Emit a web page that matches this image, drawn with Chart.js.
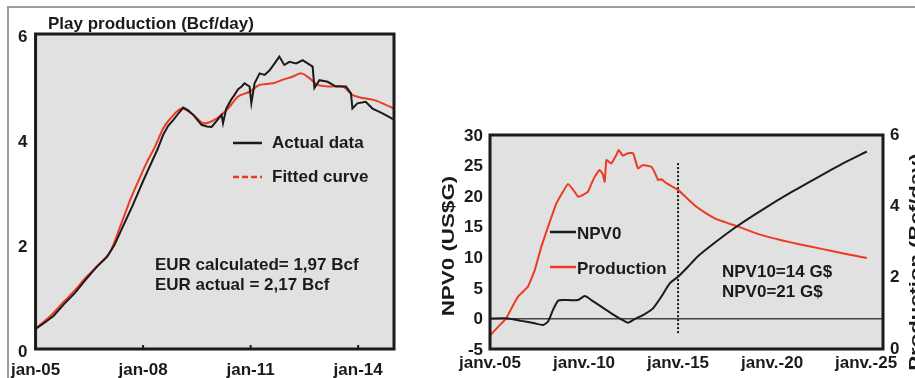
<!DOCTYPE html>
<html>
<head>
<meta charset="utf-8">
<script src="https://cdn.jsdelivr.net/npm/chart.js@4.4.1/dist/chart.umd.min.js"></script>
<style>
  html, body { margin: 0; padding: 0; background: #fff; }
  #wrap { position: relative; width: 915px; height: 378px; overflow: hidden; }
  #frame { position: absolute; left: 7px; top: 6px; width: 920px; height: 380px;
           border-top: 2px solid #9c9c9c; border-left: 2px solid #9c9c9c; }
  #left { position: absolute; left: 0; top: 0; }
  #right { position: absolute; left: 435px; top: 0; }
</style>
</head>
<body>
<div id="wrap">
  <div id="frame"></div>
  <canvas id="left" width="420" height="378"></canvas>
  <canvas id="right" width="480" height="378"></canvas>
</div>
<script>
const FONT = '"Liberation Sans", Arial, Helvetica, sans-serif';
const INK = '#1b1b1b';
const RED = '#ee3a22';
const PLOT_BG = '#e1e1e1';

// --- left chart: play production (Bcf/day) ---
const fitYears = [2005.0, 2005.4, 2005.79, 2006.1, 2006.43, 2006.75, 2007.08, 2007.36, 2007.64, 2007.92,
  2008.1, 2008.33, 2008.56, 2008.75, 2009.07, 2009.4, 2009.68, 2010.05, 2010.37, 2010.65,
  2010.97, 2011.25, 2011.62, 2011.9, 2012.18, 2012.41, 2012.64, 2012.87, 2013.2, 2013.57,
  2013.84, 2014.12, 2014.4, 2014.68, 2015.0];
const fittedCurve = [0.39, 0.62, 0.9, 1.12, 1.38, 1.6, 1.85, 2.33, 2.84, 3.28,
  3.55, 3.85, 4.2, 4.38, 4.58, 4.46, 4.3, 4.39, 4.58, 4.81,
  4.9, 5.03, 5.06, 5.13, 5.19, 5.25, 5.16, 5.03, 5.0, 5.0,
  4.84, 4.78, 4.75, 4.68, 4.58];

const actualYears = [2005.0, 2005.25, 2005.5, 2005.8, 2006.1, 2006.4, 2006.7, 2007.0, 2007.2, 2007.4,
  2007.55, 2007.7, 2007.85, 2008.0, 2008.2, 2008.4, 2008.56, 2008.7, 2008.84, 2009.0,
  2009.12, 2009.25, 2009.4, 2009.52, 2009.63, 2009.78, 2009.91, 2010.07, 2010.19, 2010.23,
  2010.32, 2010.45, 2010.55, 2010.65, 2010.75, 2010.83, 2010.97, 2011.02, 2011.11, 2011.25,
  2011.39, 2011.53, 2011.67, 2011.8, 2011.94, 2012.08, 2012.27, 2012.45, 2012.59, 2012.73,
  2012.78, 2012.92, 2013.15, 2013.38, 2013.66, 2013.8, 2013.84, 2013.98, 2014.21, 2014.4,
  2014.55, 2014.68, 2014.86, 2014.97];
const actualData = [0.38, 0.5, 0.63, 0.86, 1.07, 1.32, 1.56, 1.76, 1.98, 2.28,
  2.5, 2.72, 2.96, 3.2, 3.5, 3.8, 4.08, 4.25, 4.36, 4.5,
  4.6, 4.55, 4.46, 4.36, 4.27, 4.24, 4.23, 4.36, 4.46, 4.3,
  4.58, 4.74, 4.84, 4.95, 5.0, 5.06, 5.0, 4.68, 5.06, 5.25,
  5.22, 5.31, 5.44, 5.57, 5.41, 5.47, 5.44, 5.5, 5.44, 5.38,
  4.97, 5.12, 5.09, 5.0, 5.0, 4.87, 4.58, 4.68, 4.71, 4.58,
  4.53, 4.49, 4.42, 4.38];

const playTickYears = [2005, 2008, 2011, 2014];
const playTickLabels = ['jan-05', 'jan-08', 'jan-11', 'jan-14'];

// --- right chart: NPV0 vs production ---
const npvYears = [2005.0, 2005.96, 2006.67, 2007.38, 2007.82, 2008.09, 2008.35, 2008.62, 2008.88, 2009.15,
  2009.68, 2010.04, 2010.39, 2010.92, 2011.45, 2011.98, 2012.34, 2012.7, 2013.23, 2013.67,
  2014.11, 2014.56, 2015.0, 2015.53, 2016.03, 2017.0, 2018.1, 2019.5, 2021.0, 2022.5,
  2023.8, 2025.04];
const npv0 = [0.0, 0.0, -0.4, -0.8, -1.07, -0.5, 1.4, 2.9, 3.0, 3.0,
  3.0, 3.67, 3.0, 1.92, 0.83, -0.14, -0.7, -0.1, 0.72, 1.65,
  3.55, 5.74, 6.83, 8.46, 10.1, 12.5, 15.0, 17.8, 20.6, 23.2,
  25.4, 27.3];

const prodYears = [2005.0, 2005.43, 2005.85, 2006.2, 2006.49, 2007.02, 2007.38, 2007.73, 2008.09, 2008.53,
  2008.88, 2009.15, 2009.42, 2009.68, 2009.95, 2010.21, 2010.39, 2010.57, 2010.83, 2011.0,
  2011.1, 2011.19, 2011.45, 2011.72, 2011.84, 2012.07, 2012.34, 2012.61, 2012.78, 2012.87,
  2013.14, 2013.58, 2013.76, 2013.94, 2014.11, 2014.38, 2015.0, 2015.53, 2016.0, 2016.5,
  2017.0, 2018.2, 2019.4, 2020.5, 2021.5, 2022.7, 2023.8, 2025.04];
const production = [0.38, 0.62, 0.85, 1.2, 1.47, 1.75, 2.21, 2.87, 3.43, 4.08,
  4.41, 4.63, 4.47, 4.27, 4.32, 4.41, 4.63, 4.83, 5.02, 4.9,
  4.69, 5.3, 5.2, 5.44, 5.58, 5.42, 5.49, 5.49, 5.2, 5.06,
  5.16, 5.11, 4.95, 4.74, 4.76, 4.65, 4.46, 4.2, 3.98, 3.8,
  3.65, 3.43, 3.2, 3.05, 2.93, 2.8, 2.68, 2.55];

const cutoffYears = [2015.0, 2015.0];
const cutoffRange = [-2.4, 25.4];

const npvTickYears = [2005, 2010, 2015, 2020, 2025];
const npvTickLabels = ['janv.-05', 'janv.-10', 'janv.-15', 'janv.-20', 'janv.-25'];

const pts = (xs, ys) => xs.map((x, i) => ({ x: x, y: ys[i] }));

// grey plot background + heavy black box around it
const plotBox = {
  id: 'plotBox',
  beforeDraw(chart) {
    const { ctx, chartArea: a } = chart;
    ctx.save();
    ctx.fillStyle = PLOT_BG;
    ctx.fillRect(a.left, a.top, a.right - a.left, a.bottom - a.top);
    ctx.restore();
  },
  afterDatasetsDraw(chart) {
    const { ctx, chartArea: a } = chart;
    ctx.save();
    ctx.strokeStyle = INK;
    ctx.lineWidth = 3;
    ctx.strokeRect(a.left, a.top, a.right - a.left, a.bottom - a.top);
    ctx.restore();
  }
};

// free text, legend samples and rotated titles, given per chart in options.plugins.notes
const notes = {
  id: 'notes',
  afterDraw(chart, args, opts) {
    const ctx = chart.ctx;
    ctx.save();
    ctx.fillStyle = INK;
    ctx.font = 'bold 17px ' + FONT;
    ctx.textBaseline = 'middle';
    ctx.textAlign = 'left';
    (opts.texts || []).forEach(t => ctx.fillText(t[0], t[1], t[2]));
    (opts.keys || []).forEach(k => {
      ctx.beginPath();
      ctx.strokeStyle = k.color;
      ctx.lineWidth = 2.5;
      ctx.setLineDash(k.dash || []);
      ctx.moveTo(k.x0, k.y);
      ctx.lineTo(k.x1, k.y);
      ctx.stroke();
    });
    ctx.setLineDash([]);
    (opts.rotated || []).forEach(r => {
      ctx.save();
      ctx.translate(r.x, r.y);
      ctx.rotate(-Math.PI / 2);
      ctx.scale(r.stretch || 1, 1);
      ctx.textAlign = 'center';
      ctx.font = 'bold ' + r.size + 'px ' + FONT;
      ctx.fillText(r.text, 0, 0);
      ctx.restore();
    });
    // small inward tick marks on the bottom axis
    if (opts.innerTicks) {
      const xs = chart.scales.x;
      const a = chart.chartArea;
      ctx.strokeStyle = INK;
      ctx.lineWidth = 2;
      xs.ticks.forEach((t, i) => {
        if (i === 0) return;
        const px = xs.getPixelForValue(t.value);
        ctx.beginPath();
        ctx.moveTo(px, a.bottom);
        ctx.lineTo(px, a.bottom - 4);
        ctx.stroke();
      });
    }
    ctx.restore();
  }
};

const tickFont = { family: FONT, size: 17, weight: 'bold' };

new Chart(document.getElementById('left'), {
  type: 'line',
  data: {
    datasets: [
      { label: 'Actual data', data: pts(actualYears, actualData),
        borderColor: INK, borderWidth: 2, pointRadius: 0, tension: 0 },
      { label: 'Fitted curve', data: pts(fitYears, fittedCurve),
        borderColor: RED, borderWidth: 2, pointRadius: 0, tension: 0.3 }
    ]
  },
  options: {
    responsive: false,
    devicePixelRatio: 1,
    animation: false,
    layout: { padding: { top: 34, right: 26, left: 0, bottom: 0 } },
    plugins: {
      legend: { display: false },
      tooltip: { enabled: false },
      notes: {
        innerTicks: true,
        texts: [
          ['Play production (Bcf/day)', 48, 24],
          ['Actual data', 272, 143],
          ['Fitted curve', 272, 177],
          ['EUR calculated= 1,97 Bcf', 155, 265],
          ['EUR actual = 2,17 Bcf', 155, 285]
        ],
        keys: [
          { x0: 233, x1: 262, y: 143, color: INK },
          { x0: 233, x1: 262, y: 177, color: RED, dash: [6, 3] }
        ]
      }
    },
    scales: {
      x: {
        type: 'linear', min: 2005, max: 2015,
        afterBuildTicks: s => { s.ticks = playTickYears.map(v => ({ value: v })); },
        afterFit: s => { s.height = 29; },
        grid: { display: false, drawTicks: false },
        border: { display: false },
        ticks: { autoSkip: false, maxRotation: 0, padding: 11, color: INK, font: tickFont,
                 callback: (v, i) => playTickLabels[i] }
      },
      y: {
        min: 0, max: 6,
        afterFit: s => { s.width = 35; },
        grid: { display: false, drawTicks: false },
        border: { display: false },
        ticks: { stepSize: 2, padding: 8, labelOffset: 3, color: INK, font: tickFont }
      }
    }
  },
  plugins: [plotBox, notes]
});

new Chart(document.getElementById('right'), {
  type: 'line',
  data: {
    datasets: [
      { label: 'NPV0', data: pts(npvYears, npv0), yAxisID: 'y',
        borderColor: INK, borderWidth: 2, pointRadius: 0, tension: 0.2 },
      { label: 'Production', data: pts(prodYears, production), yAxisID: 'y2',
        borderColor: RED, borderWidth: 2, pointRadius: 0, tension: 0.1 },
      { label: 'cutoff', data: pts(cutoffYears, cutoffRange), yAxisID: 'y',
        borderColor: INK, borderWidth: 2, borderDash: [2, 2], pointRadius: 0 }
    ]
  },
  options: {
    responsive: false,
    devicePixelRatio: 1,
    animation: false,
    layout: { padding: { top: 135, right: 0, left: 0, bottom: 0 } },
    plugins: {
      legend: { display: false },
      tooltip: { enabled: false },
      notes: {
        texts: [
          ['NPV0', 142, 234],
          ['Production', 142, 269],
          ['NPV10=14 G$', 287, 272],
          ['NPV0=21 G$', 287, 292]
        ],
        keys: [
          { x0: 115, x1: 141, y: 232, color: INK },
          { x0: 115, x1: 141, y: 267, color: RED }
        ],
        rotated: [
          { text: 'NPV0 (US$G)', x: 15, y: 246, size: 16, stretch: 1.4 },
          { text: 'Production (Bcf/day)', x: 481, y: 262, size: 17, stretch: 1.3 }
        ]
      }
    },
    scales: {
      x: {
        type: 'linear', min: 2005, max: 2025.9,
        afterBuildTicks: s => { s.ticks = npvTickYears.map(v => ({ value: v })); },
        afterFit: s => { s.height = 29; },
        grid: { display: false, drawTicks: false },
        border: { display: false },
        ticks: { autoSkip: false, maxRotation: 0, padding: 4, color: INK, font: tickFont,
                 callback: (v, i) => npvTickLabels[i] }
      },
      y: {
        min: -5, max: 30,
        afterFit: s => { s.width = 55; },
        grid: { drawTicks: false, lineWidth: 1.5,
                color: c => (c.tick && c.tick.value === 0 ? '#444' : 'rgba(0,0,0,0)') },
        border: { display: false },
        ticks: { stepSize: 5, padding: 7, labelOffset: 1, color: INK, font: tickFont }
      },
      y2: {
        position: 'right', min: 0, max: 6,
        afterFit: s => { s.width = 32; },
        grid: { display: false, drawTicks: false },
        border: { display: false },
        ticks: { stepSize: 2, padding: 7, color: INK, font: tickFont }
      }
    }
  },
  plugins: [plotBox, notes]
});
</script>
</body>
</html>
